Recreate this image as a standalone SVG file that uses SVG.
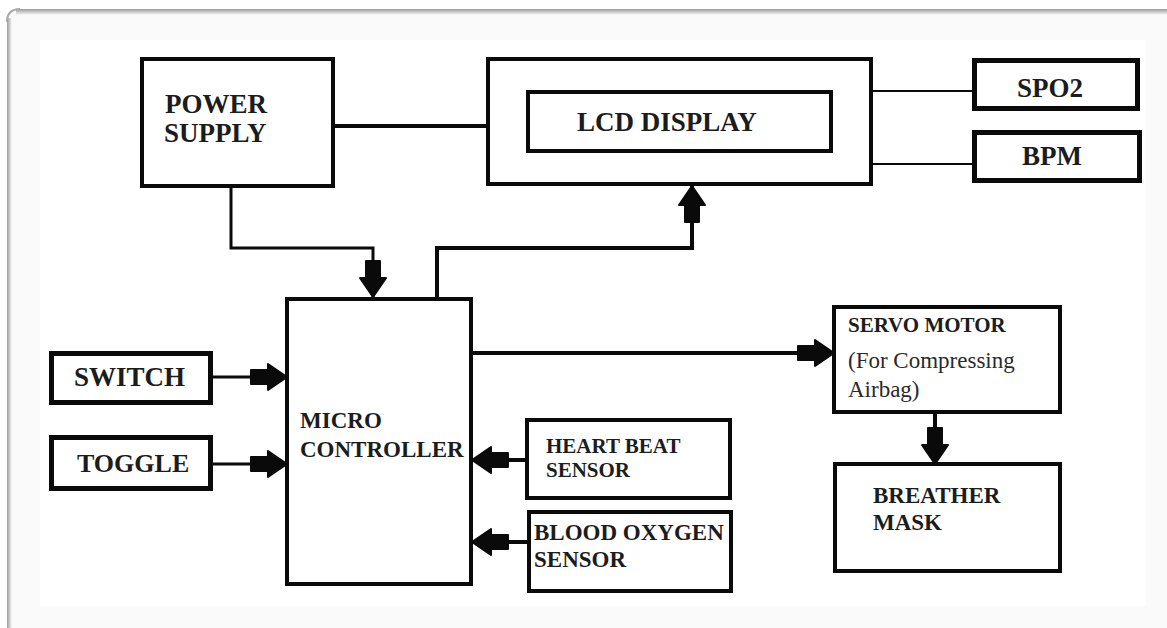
<svg xmlns="http://www.w3.org/2000/svg" width="1167" height="628" viewBox="0 0 1167 628">
  <defs>
    <style>
      .box { fill: #ffffff; stroke: #0a0a0a; stroke-width: 4; }
      .box5 { fill: #ffffff; stroke: #0a0a0a; stroke-width: 5; }
      .lbl { font-family: "Liberation Serif", "Times New Roman", serif; font-weight: bold; fill: #1c1c1c; }
      .reg { font-family: "Liberation Serif", "Times New Roman", serif; font-weight: normal; fill: #2a2a2a; }
      .ln { fill: none; stroke: #0a0a0a; stroke-linejoin: miter; }
      .w2 { stroke-width: 2; }
      .w3 { stroke-width: 3; }
      .w4 { stroke-width: 4; }
      .arr { marker-end: url(#blk); }
    </style>
    <marker id="blk" markerUnits="userSpaceOnUse" viewBox="-40 -16 42 32" refX="0" refY="0" markerWidth="42" markerHeight="32" orient="auto" overflow="visible">
      <path d="M-36,-7 H-19 V-13 L0,0 L-19,13 V7 H-36 Z" fill="#0a0a0a" stroke="#0a0a0a" stroke-width="2" stroke-linejoin="round"/>
    </marker>
    <linearGradient id="shTop" x1="0" y1="0" x2="0" y2="1">
      <stop offset="0" stop-color="#9a9a9a"/>
      <stop offset="1" stop-color="#fafafa"/>
    </linearGradient>
    <linearGradient id="shLeft" x1="0" y1="0" x2="1" y2="0">
      <stop offset="0" stop-color="#9a9a9a"/>
      <stop offset="1" stop-color="#fafafa"/>
    </linearGradient>
  </defs>

  <!-- background frame -->
  <rect x="0" y="0" width="1167" height="628" fill="#ffffff"/>
  <g id="frame">
    <rect x="8" y="10" width="1180" height="640" rx="10" ry="10" fill="#fafafa"/>
    <rect x="16" y="9" width="1160" height="6" fill="url(#shTop)"/>
    <rect x="7" y="18" width="5" height="620" fill="url(#shLeft)"/>
    <path d="M7,22 Q7,9 20,9" fill="none" stroke="#a8a8a8" stroke-width="2"/>
    <rect x="40" y="40" width="1106" height="566" fill="#ffffff"/>
  </g>

  <!-- connectors -->
  <g id="connectors">
    <path class="ln w4" d="M335,126 H486"/>
    <path class="ln w3 arr" d="M231,188 V248 H373 V297"/>
    <path class="ln w4 arr" d="M437,297 V248 H692 V186"/>
    <path class="ln w2" d="M873,91 H972"/>
    <path class="ln w2" d="M873,164 H972"/>
    <path class="ln w3 arr" d="M213,377 H287"/>
    <path class="ln w3 arr" d="M213,464 H287"/>
    <path class="ln w4 arr" d="M473,353 H834"/>
    <path class="ln w4 arr" d="M526,460 H472"/>
    <path class="ln w4 arr" d="M528,542 H472"/>
    <path class="ln w4 arr" d="M935,413 V464"/>
  </g>

  <g id="power-supply">
    <rect class="box" x="142" y="59" width="191" height="127"/>
    <text class="lbl" x="165" y="113" font-size="27">POWER</text>
    <text class="lbl" x="164" y="142" font-size="27">SUPPLY</text>
  </g>

  <g id="lcd">
    <rect class="box" x="488" y="59" width="383" height="125"/>
    <rect class="box" x="528" y="92" width="303" height="59"/>
    <text class="lbl" x="577" y="131" font-size="27">LCD DISPLAY</text>
  </g>

  <g id="spo2">
    <rect class="box5" x="974.5" y="60.5" width="163" height="48"/>
    <text class="lbl" x="1017" y="97" font-size="27">SPO2</text>
  </g>

  <g id="bpm">
    <rect class="box5" x="974.5" y="132.5" width="165" height="48"/>
    <text class="lbl" x="1022" y="165" font-size="27">BPM</text>
  </g>

  <g id="micro-controller">
    <rect class="box" x="287" y="299" width="184" height="285"/>
    <text class="lbl" x="300" y="428" font-size="23">MICRO</text>
    <text class="lbl" x="300" y="457" font-size="23">CONTROLLER</text>
  </g>

  <g id="switch">
    <rect class="box5" x="51.5" y="353.5" width="159" height="49"/>
    <text class="lbl" x="74" y="386" font-size="27">SWITCH</text>
  </g>

  <g id="toggle">
    <rect class="box5" x="51.5" y="437.5" width="159" height="51"/>
    <text class="lbl" x="77" y="472" font-size="26">TOGGLE</text>
  </g>

  <g id="heart-beat-sensor">
    <rect class="box" x="527" y="420" width="203" height="78"/>
    <text class="lbl" x="546" y="453" font-size="21">HEART BEAT</text>
    <text class="lbl" x="546" y="477" font-size="21">SENSOR</text>
  </g>

  <g id="blood-oxygen-sensor">
    <rect class="box" x="529" y="512" width="202" height="79"/>
    <text class="lbl" x="534" y="540" font-size="23">BLOOD OXYGEN</text>
    <text class="lbl" x="534" y="567" font-size="23">SENSOR</text>
  </g>

  <g id="servo-motor">
    <rect class="box" x="834" y="307" width="226" height="105"/>
    <text class="lbl" x="848" y="332" font-size="21">SERVO MOTOR</text>
    <text class="reg" x="848" y="368" font-size="23">(For Compressing</text>
    <text class="reg" x="848" y="397" font-size="23">Airbag)</text>
  </g>

  <g id="breather-mask">
    <rect class="box" x="835" y="464" width="225" height="107"/>
    <text class="lbl" x="873" y="503" font-size="23">BREATHER</text>
    <text class="lbl" x="873" y="530" font-size="23">MASK</text>
  </g>
</svg>
